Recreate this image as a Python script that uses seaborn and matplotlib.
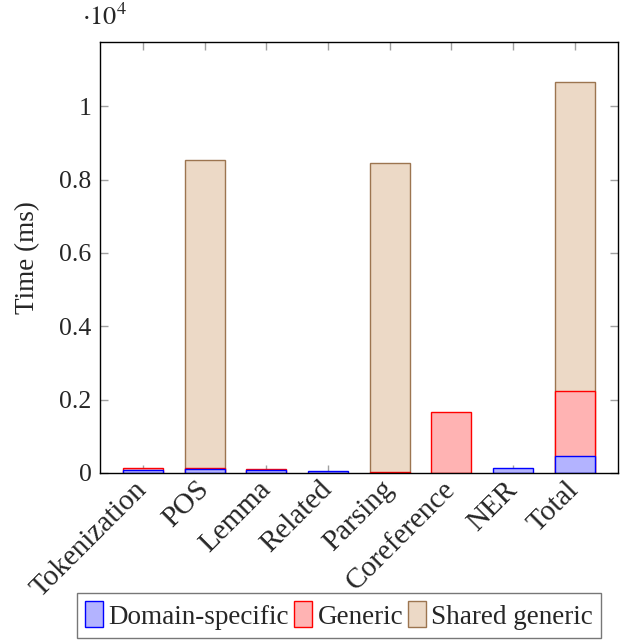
import numpy as np
import pandas as pd
import seaborn as sns
import matplotlib.pyplot as plt
from matplotlib.patches import Patch
from matplotlib.ticker import FuncFormatter

# values, in ms
categories = ["Tokenization", "POS", "Lemma", "Related", "Parsing",
              "Coreference", "NER", "Total"]
domain_specific = [85, 100, 85, 45, 0, 0, 123, 458]
generic = [60, 30, 35, 0, 30, 1660, 0, 1785]
shared_generic = [0, 8397, 0, 0, 8415, 0, 0, 8420]

series_names = ["Domain-specific", "Generic", "Shared generic"]
fills = ["#b3b3ff", "#ffb3b3", "#ecd9c6"]
edges = ["#0000ff", "#ff0000", "#9c7550"]

sns.set_theme(style="white")
plt.rcParams["font.family"] = ["Liberation Serif", "DejaVu Serif"]
plt.rcParams["mathtext.fontset"] = "stix"

fig = plt.figure(figsize=(6.31, 6.43), dpi=100)
ax = fig.add_axes([0.1585, 0.2644, 0.8205, 0.6703])

# stack by drawing cumulative heights, tallest layer first
layers = [domain_specific, generic, shared_generic]
cum = np.cumsum(np.array(layers, dtype=float), axis=0)
for i in reversed(range(3)):
    df = pd.DataFrame({"cat": categories, "ms": cum[i], "own": layers[i]})
    df = df[df["own"] > 0]
    sns.barplot(data=df, x="cat", y="ms", order=categories, ax=ax,
                color=fills[i], edgecolor=edges[i], linewidth=1.0,
                width=0.65, saturation=1, errorbar=None)

ax.set_xlim(-0.7, 7.7)
ax.set_ylim(0, 11750)
ax.set_yticks([0, 2000, 4000, 6000, 8000, 10000])
ax.yaxis.set_major_formatter(FuncFormatter(lambda v, _: f"{v / 1e4:g}"))
ax.set_xlabel("")
ax.set_ylabel("Time (ms)", fontsize=19.5, labelpad=14)
ax.set_xticks(range(len(categories)))
ax.set_xticklabels(categories, rotation=45, ha="right", va="center",
                   rotation_mode="anchor", fontsize=21)
ax.tick_params(axis="both", direction="in", length=6, width=1,
               color="#a0a0a0", top=True, right=True,
               left=True, bottom=True, pad=6)
ax.tick_params(axis="x", pad=9)
ax.tick_params(axis="y", labelsize=18.5)
for s in ax.spines.values():
    s.set_visible(True)
    s.set_color("black")
    s.set_linewidth(1)

fig.text(0.13, 0.953, r"$\cdot 10^4$", fontsize=19, ha="left", va="bottom")

handles = [Patch(facecolor=f, edgecolor=e, linewidth=1) for f, e in zip(fills, edges)]
leg = fig.legend(handles, series_names, loc="upper left",
                 bbox_to_anchor=(0.1225, 0.0775), ncol=3, fontsize=19.5,
                 frameon=True, fancybox=False, edgecolor="#555555",
                 handlelength=0.65, handleheight=1.1, handletextpad=0.2,
                 columnspacing=0.2, borderpad=0.3, borderaxespad=0)
leg.get_frame().set_linewidth(1)

fig.savefig("out.png", dpi=100)
